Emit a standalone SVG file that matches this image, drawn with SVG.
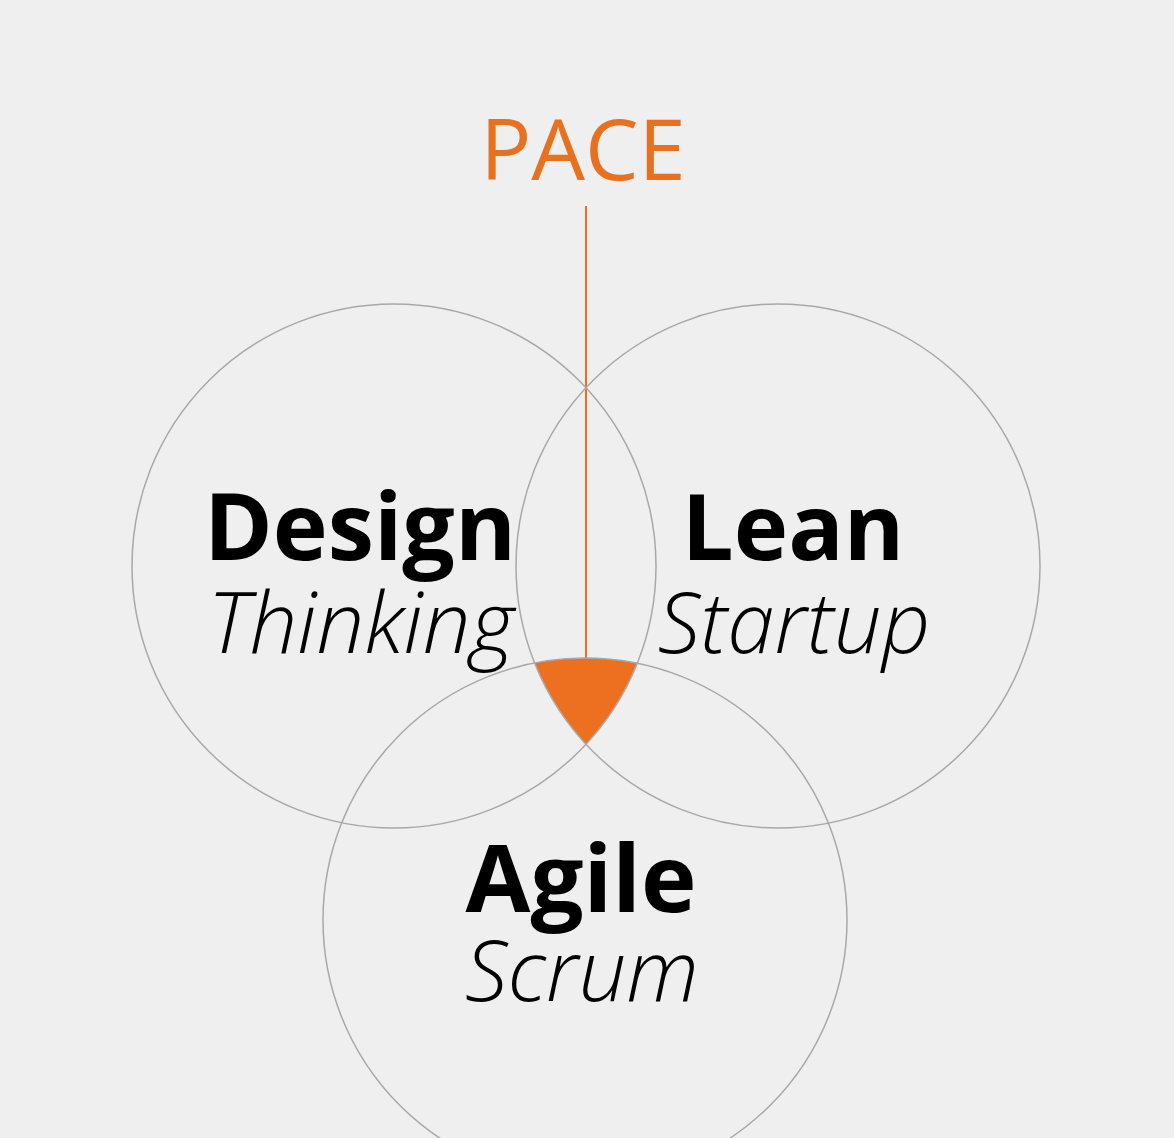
<svg xmlns="http://www.w3.org/2000/svg" width="1174" height="1138" viewBox="0 0 1174 1138">
<style>
.c{fill:none;stroke:#a8a8a8;stroke-width:1.5}
.b{font-family:"Open Sans","Liberation Sans",sans-serif;font-weight:700;fill:#000;text-anchor:middle}
.i{font-family:"Open Sans","Liberation Sans",sans-serif;font-weight:300;font-style:italic;fill:#000;text-anchor:middle}
</style>
<rect width="1174" height="1138" fill="#efefef"/>
<g id="connectors">
<line x1="586" y1="206" x2="586" y2="660" stroke="#e8711f" stroke-width="2"/>
</g>
<g id="core">
<path d="M535 663 A262 262 0 0 1 637 663 A262 262 0 0 1 586 744 A262 262 0 0 1 535 663 Z" fill="#ec7020"/>
</g>
<g id="design">
<circle class="c" cx="394" cy="566" r="262"/>
<text class="b" x="360" y="560" font-size="93">Design</text>
<text class="i" x="361" y="653" font-size="85">Thinking</text>
</g>
<g id="lean">
<circle class="c" cx="778" cy="566" r="262"/>
<text class="b" x="793" y="560" font-size="92">Lean</text>
<text class="i" x="794" y="653" font-size="85">Startup</text>
</g>
<g id="agile">
<circle class="c" cx="585" cy="920" r="262"/>
<text class="b" x="581" y="912" font-size="94">Agile</text>
<text class="i" x="582" y="1001" font-size="85">Scrum</text>
</g>
<g id="pace">
<text x="583" y="180" font-family="Open Sans, Liberation Sans, sans-serif" font-size="85" fill="#e8711f" text-anchor="middle">PACE</text>
</g>
</svg>
